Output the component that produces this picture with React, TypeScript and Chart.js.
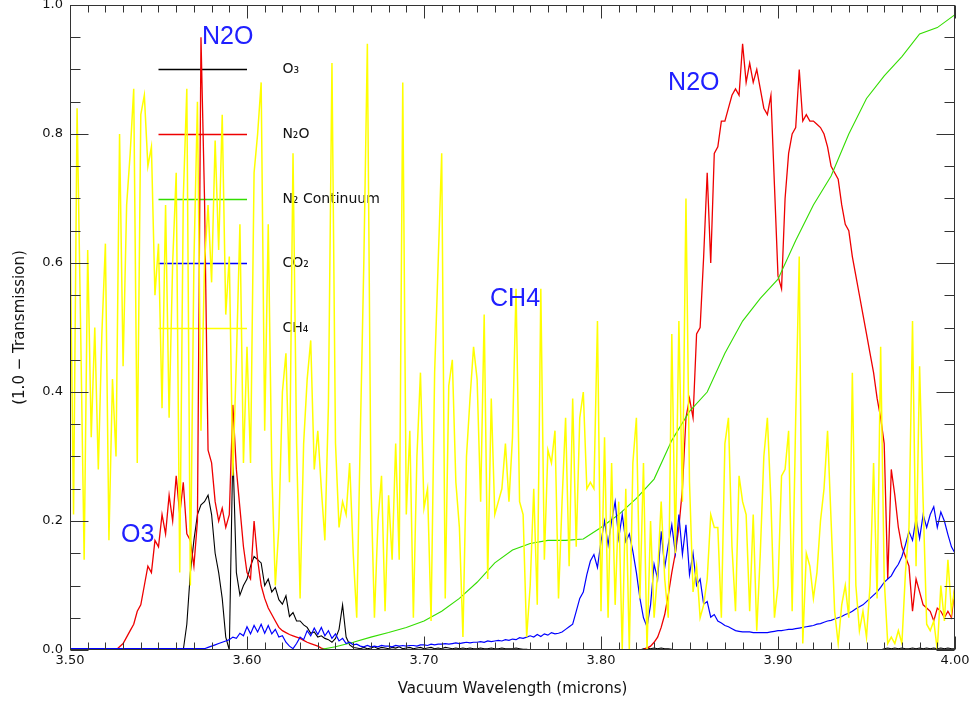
import React, { useEffect, useRef } from "react";
import { Chart, registerables } from "chart.js";

Chart.register(...registerables);

// wavelength grids (microns)
const waveStart = 3.5;
const fineStep = 0.002; // O3, N2O, CO2, CH4 sampling
const coarseStep = 0.01; // N2 continuum sampling

const seriesNames = ["O\u2083", "N\u2082O", "N\u2082 Continuum", "CO\u2082", "CH\u2084"];
const seriesColors = ["#000000", "#ee0000", "#33dd00", "#0000ff", "#ffff00"];
const seriesWidths = [1.1, 1.3, 1.1, 1.2, 1.5];

const o3 = [
  0,0,0,0,0,0,0,0,0,0,
  0,0,0,0,0,0,0,0,0,0,
  0,0,0,0,0,0,0,0,0,0,
  0,0,0,0.04,0.12,0.17,0.21,0.225,0.23,0.24,
  0.21,0.15,0.12,0.08,0.02,0.0,0.31,0.12,0.085,0.10,
  0.11,0.13,0.145,0.14,0.135,0.10,0.11,0.09,0.097,0.078,
  0.071,0.084,0.052,0.058,0.045,0.045,0.039,0.035,0.026,0.028,
  0.02,0.022,0.018,0.016,0.012,0.018,0.032,0.07,0.02,0.008,
  0.004,0.003,0.002,0.004,0.002,0.003,0.005,0.002,0.004,0.003,
  0.002,0.004,0.003,0.005,0.002,0.003,0.004,0.002,0.003,0.004,
  0.002,0.003,0.004,0.002,0.003,0.002,0.004,0.003,0.002,0.003,
  0.002,0.003,0.002,0.003,0.002,0.002,0.003,0.002,0.002,0.003,
  0.002,0.002,0.003,0.002,0.002,0.002,0.003,0.002,0.001,0.001,
  0,0,0,0,0,0,0,0,0,0,
  0,0,0,0,0,0,0,0,0,0,
  0,0,0,0,0,0,0,0,0,0,
  0,0,0.002,0.003,0.002,0.003,0.002,0.003,0.002,0.002,
  0.001,0,0,0,0,0,0,0,0,0,
  0,0,0,0,0,0,0,0,0,0,
  0,0,0,0,0,0,0,0,0,0,
  0,0,0,0,0,0,0,0,0,0,
  0,0,0,0,0,0,0,0,0,0,
  0,0,0,0,0,0,0,0,0,0,
  0.002,0.003,0.002,0.003,0.002,0.003,0.002,0.002,0.003,0.002,
  0.003,0.002,0.003,0.002,0.003,0.002,0.003,0.002,0.003,0.002,
  0.002,
];

const n2o = [
  0,0,0,0,0,0,0,0,0,0,
  0,0,0,0,0.005,0.01,0.02,0.03,0.04,0.06,
  0.07,0.10,0.13,0.12,0.17,0.16,0.21,0.18,0.24,0.20,
  0.27,0.21,0.26,0.18,0.17,0.13,0.20,0.95,0.70,0.31,
  0.29,0.23,0.20,0.22,0.19,0.21,0.38,0.28,0.22,0.16,
  0.12,0.11,0.20,0.14,0.10,0.08,0.065,0.055,0.045,0.035,
  0.03,0.027,0.024,0.022,0.02,0.018,0.015,0.012,0.01,0.008,
  0.006,0.003,0.001,0,0,0,0,0,0,0,
  0,0,0,0,0,0,0,0,0,0,
  0,0,0,0,0,0,0,0,0,0,
  0,0,0,0,0,0,0,0,0,0,
  0,0,0,0,0,0,0,0,0,0,
  0,0,0,0,0,0,0,0,0,0,
  0,0,0,0,0,0,0,0,0,0,
  0,0,0,0,0,0,0,0,0,0,
  0,0,0,0,0,0,0,0,0,0,
  0,0,0.001,0.003,0.006,0.012,0.02,0.035,0.055,0.085,
  0.12,0.15,0.19,0.25,0.36,0.39,0.36,0.49,0.50,0.61,
  0.74,0.60,0.77,0.78,0.82,0.82,0.84,0.86,0.87,0.86,
  0.94,0.88,0.91,0.88,0.90,0.87,0.84,0.83,0.86,0.72,
  0.58,0.56,0.70,0.77,0.80,0.81,0.90,0.82,0.83,0.82,
  0.82,0.815,0.81,0.80,0.78,0.75,0.74,0.73,0.69,0.66,
  0.65,0.61,0.58,0.55,0.52,0.49,0.46,0.43,0.39,0.36,
  0.32,0.11,0.28,0.24,0.19,0.16,0.145,0.13,0.06,0.11,
  0.09,0.07,0.065,0.06,0.045,0.065,0.06,0.05,0.06,0.05,
  0.10,
];

const n2Continuum = [
  0,0,0,0,0,0,0,0,0,0,
  0,0,0,0,0,0.005,0.012,0.02,0.027,0.035,
  0.045,0.06,0.08,0.105,0.135,0.155,0.165,0.17,0.17,0.172,
  0.19,0.21,0.235,0.265,0.325,0.37,0.40,0.46,0.51,0.545,
  0.575,0.635,0.69,0.735,0.80,0.855,0.89,0.92,0.955,0.965,
  0.985,
];

const co2 = [
  0.002,0.002,0.002,0.002,0.002,0.002,0.002,0.002,0.002,0.002,
  0.002,0.002,0.002,0.002,0.002,0.002,0.002,0.002,0.002,0.002,
  0.002,0.002,0.002,0.002,0.002,0.002,0.002,0.002,0.002,0.002,
  0.002,0.002,0.002,0.002,0.002,0.002,0.002,0.002,0.002,0.004,
  0.006,0.008,0.01,0.012,0.014,0.016,0.02,0.018,0.026,0.022,
  0.036,0.025,0.038,0.028,0.04,0.026,0.038,0.025,0.032,0.02,
  0.022,0.012,0.006,0.002,0.01,0.02,0.016,0.03,0.022,0.034,
  0.024,0.035,0.022,0.03,0.018,0.025,0.014,0.018,0.01,0.012,
  0.008,0.009,0.006,0.005,0.007,0.005,0.006,0.005,0.007,0.006,
  0.006,0.005,0.007,0.006,0.007,0.006,0.007,0.007,0.006,0.008,
  0.008,0.007,0.009,0.008,0.009,0.009,0.01,0.009,0.01,0.011,
  0.01,0.011,0.012,0.011,0.012,0.012,0.013,0.012,0.014,0.013,
  0.014,0.015,0.014,0.016,0.015,0.017,0.016,0.019,0.018,0.02,
  0.022,0.02,0.024,0.021,0.025,0.023,0.027,0.025,0.026,0.028,
  0.032,0.036,0.04,0.06,0.08,0.09,0.117,0.138,0.148,0.128,
  0.168,0.20,0.163,0.20,0.23,0.173,0.21,0.168,0.18,0.153,
  0.12,0.08,0.05,0.036,0.07,0.133,0.11,0.184,0.128,0.163,
  0.194,0.15,0.21,0.148,0.194,0.117,0.15,0.10,0.11,0.071,
  0.075,0.051,0.055,0.045,0.042,0.038,0.036,0.033,0.03,0.029,
  0.028,0.028,0.028,0.027,0.027,0.027,0.027,0.027,0.028,0.029,
  0.03,0.03,0.031,0.032,0.032,0.033,0.034,0.035,0.036,0.037,
  0.038,0.04,0.041,0.043,0.045,0.046,0.048,0.05,0.052,0.055,
  0.057,0.06,0.064,0.067,0.07,0.075,0.08,0.085,0.09,0.097,
  0.105,0.11,0.115,0.125,0.133,0.145,0.163,0.184,0.17,0.204,
  0.173,0.21,0.19,0.21,0.222,0.19,0.214,0.2,0.179,0.16,
  0.15,
];

const ch4 = [
  0.67,0.21,0.84,0.50,0.14,0.62,0.33,0.50,0.28,0.49,
  0.63,0.17,0.42,0.30,0.80,0.44,0.69,0.77,0.87,0.29,
  0.83,0.86,0.75,0.78,0.55,0.63,0.375,0.69,0.36,0.60,
  0.74,0.12,0.70,0.87,0.10,0.60,0.85,0.34,0.60,0.69,
  0.57,0.79,0.62,0.83,0.52,0.61,0.27,0.45,0.66,0.29,
  0.47,0.29,0.74,0.80,0.88,0.34,0.66,0.28,0.10,0.19,
  0.40,0.46,0.26,0.77,0.32,0.08,0.32,0.42,0.48,0.28,
  0.34,0.25,0.17,0.38,0.91,0.32,0.19,0.23,0.21,0.29,
  0.15,0.05,0.33,0.60,0.94,0.26,0.05,0.20,0.27,0.06,
  0.24,0.14,0.32,0.14,0.88,0.21,0.34,0.05,0.30,0.43,
  0.22,0.25,0.045,0.43,0.60,0.77,0.08,0.41,0.45,0.26,
  0.19,0.02,0.30,0.39,0.47,0.42,0.23,0.52,0.11,0.39,
  0.21,0.23,0.25,0.32,0.23,0.33,0.56,0.23,0.21,0.02,
  0.10,0.25,0.07,0.56,0.14,0.31,0.29,0.34,0.08,0.23,
  0.36,0.13,0.39,0.16,0.36,0.40,0.25,0.26,0.25,0.51,
  0.06,0.33,0.05,0.29,0.07,0.23,0.00,0.25,0.00,0.29,
  0.36,0.08,0.29,0.00,0.20,0.05,0.12,0.23,0.11,0.05,
  0.49,0.15,0.51,0.23,0.70,0.26,0.09,0.13,0.05,0.07,
  0.11,0.21,0.19,0.19,0.05,0.32,0.36,0.16,0.06,0.27,
  0.23,0.21,0.06,0.21,0.03,0.15,0.30,0.36,0.23,0.05,
  0.10,0.27,0.28,0.34,0.06,0.36,0.61,0.01,0.15,0.13,
  0.08,0.12,0.20,0.25,0.34,0.20,0.06,0.01,0.07,0.10,
  0.05,0.43,0.10,0.03,0.06,0.02,0.10,0.29,0.08,0.47,
  0.11,0.01,0.02,0.01,0.03,0.01,0.12,0.19,0.51,0.13,
  0.44,0.23,0.04,0.03,0.045,0.00,0.10,0.045,0.14,0.06,
  0.10,
];

// legend placement (data units) and text annotations
const legendRows = [0.9, 0.8, 0.7, 0.6, 0.5];
const legendLineFrom = 3.55;
const legendLineTo = 3.6;
const legendTextAt = 3.62;
const labelTexts = ["N2O", "O3", "CH4", "N2O"];
const labelWaves = [3.5746, 3.5288, 3.7373, 3.8379];
const labelValues = [0.95, 0.1786, 0.5435, 0.879];

const xTitle = "Vacuum Wavelength (microns)";
const yTitle = "(1.0 \u2212 Transmission)";

const toPoints = (vals: number[], step: number) =>
  vals.map((v, i) => ({ x: waveStart + i * step, y: v }));

const axisFont = '"DejaVu Sans", sans-serif';

const framePlugin = {
  id: "idlFrame",
  beforeDatasetsDraw(chart: any) {
    const { ctx, scales } = chart;
    const x = scales.x;
    const y = scales.y;
    ctx.save();
    seriesNames.forEach((name, k) => {
      const py = Math.round(y.getPixelForValue(legendRows[k])) + 0.5;
      ctx.strokeStyle = seriesColors[k];
      ctx.lineWidth = 1.3;
      ctx.setLineDash([]);
      ctx.beginPath();
      ctx.moveTo(x.getPixelForValue(legendLineFrom), py);
      ctx.lineTo(x.getPixelForValue(legendLineTo), py);
      ctx.stroke();
      ctx.fillStyle = "#111";
      ctx.font = "14px " + axisFont;
      ctx.textBaseline = "middle";
      ctx.textAlign = "left";
      ctx.fillText(name, x.getPixelForValue(legendTextAt), py);
    });
    ctx.restore();
  },
  afterDatasetsDraw(chart: any) {
    const { ctx, chartArea: a, scales } = chart;
    const x = scales.x;
    const y = scales.y;
    ctx.save();
    // annotations
    ctx.fillStyle = "#2020ff";
    ctx.font = '25px "Liberation Sans", Arial, sans-serif';
    ctx.textBaseline = "middle";
    ctx.textAlign = "left";
    labelTexts.forEach((t, k) => {
      ctx.fillText(t, x.getPixelForValue(labelWaves[k]), y.getPixelForValue(labelValues[k]));
    });
    // frame
    ctx.strokeStyle = "#333";
    ctx.lineWidth = 1;
    const L = Math.round(a.left) + 0.5;
    const R = Math.round(a.right) - 0.5;
    const T = Math.round(a.top) + 0.5;
    const B = Math.round(a.bottom) - 0.5;
    ctx.strokeRect(L, T, R - L, B - T);
    ctx.beginPath();
    for (let k = 0; k <= 20; k++) {
      const py = Math.round(y.getPixelForValue(k * 0.05)) + 0.5;
      const len = k % 4 === 0 ? 18 : 10;
      ctx.moveTo(L, py);
      ctx.lineTo(L + len, py);
      ctx.moveTo(R, py);
      ctx.lineTo(R - len, py);
    }
    for (let k = 0; k <= 50; k++) {
      const px = Math.round(x.getPixelForValue(3.5 + k * 0.01)) + 0.5;
      const len = k % 10 === 0 ? 13 : 7;
      ctx.moveTo(px, B);
      ctx.lineTo(px, B - len);
      ctx.moveTo(px, T);
      ctx.lineTo(px, T + len);
    }
    ctx.stroke();
    ctx.restore();
  },
};

export default function App() {
  const ref = useRef<HTMLCanvasElement>(null);
  useEffect(() => {
    const series = [o3, n2o, n2Continuum, co2, ch4];
    const steps = [fineStep, fineStep, coarseStep, fineStep, fineStep];
    const orders = [5, 4, 3, 2, 1];
    const chart = new Chart(ref.current as HTMLCanvasElement, {
      type: "line",
      data: {
        datasets: series.map((vals, k) => ({
          label: seriesNames[k],
          data: toPoints(vals, steps[k]),
          borderColor: seriesColors[k],
          backgroundColor: seriesColors[k],
          borderWidth: seriesWidths[k],
          pointRadius: 0,
          tension: 0,
          fill: false,
          order: orders[k],
        })),
      },
      options: {
        animation: false,
        responsive: true,
        maintainAspectRatio: false,
        layout: { padding: { top: 5, right: 22, left: 0, bottom: 0 } },
        plugins: { legend: { display: false }, tooltip: { enabled: false } },
        scales: {
          x: {
            type: "linear",
            min: 3.5,
            max: 4.0,
            ticks: {
              stepSize: 0.1,
              autoSkip: false,
              maxRotation: 0,
              padding: 3,
              color: "#111",
              font: { family: axisFont, size: 13 },
              callback: (v: any) => Number(v).toFixed(2),
            },
            grid: { display: false, drawTicks: false },
            border: { display: false },
            title: {
              display: true,
              text: xTitle,
              color: "#111",
              font: { family: axisFont, size: 15 },
              padding: { top: 0, bottom: 5 },
            },
            afterFit: (s: any) => {
              s.height = 53;
              s.paddingLeft = 0;
              s.paddingRight = 0;
            },
          },
          y: {
            type: "linear",
            min: 0,
            max: 1,
            ticks: {
              stepSize: 0.2,
              padding: 7,
              color: "#111",
              font: { family: axisFont, size: 13 },
              callback: (v: any) => Number(v).toFixed(1),
            },
            grid: { display: false, drawTicks: false },
            border: { display: false },
            title: {
              display: true,
              text: yTitle,
              color: "#111",
              font: { family: axisFont, size: 15 },
              padding: { top: 11, bottom: 0 },
            },
            afterFit: (s: any) => {
              s.width = 70;
              s.paddingTop = 0;
              s.paddingBottom = 0;
            },
          },
        },
      } as any,
      plugins: [framePlugin],
    });
    return () => chart.destroy();
  }, []);
  return (
    <div style={{ position: "absolute", left: 0, top: 0, width: 977, height: 703, background: "#fff" }}>
      <canvas ref={ref} />
    </div>
  );
}
